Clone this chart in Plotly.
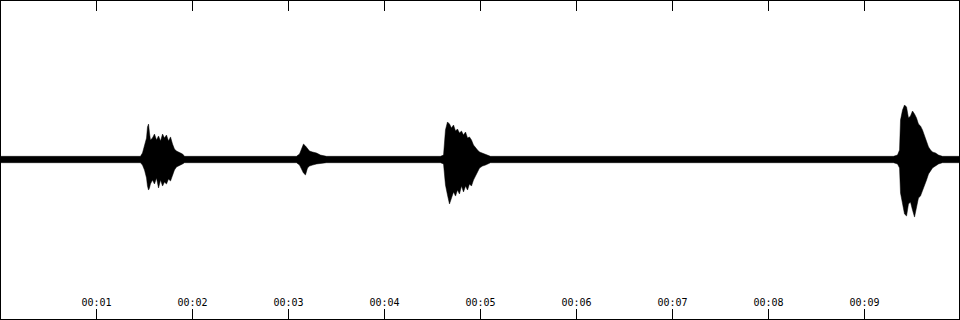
import plotly.graph_objects as go

# Waveform envelope: time (s), upper / lower peak amplitude (% of full scale)
times = [0.0,
         1.458, 1.479, 1.500, 1.521, 1.531, 1.542, 1.552, 1.562, 1.583, 1.604, 1.625, 1.646, 1.667,
         1.688, 1.708, 1.729, 1.750, 1.771, 1.792, 1.812, 1.833, 1.854, 1.875, 1.896, 1.917,
         3.083, 3.115, 3.135, 3.156, 3.177, 3.198, 3.219, 3.250, 3.292, 3.333, 3.396,
         4.583, 4.615, 4.635, 4.656, 4.677, 4.698, 4.719, 4.740, 4.760, 4.781, 4.802, 4.823,
         4.844, 4.865, 4.885, 4.906, 4.927, 4.948, 4.969, 4.990, 5.021, 5.052, 5.104,
         9.302, 9.344, 9.365, 9.375, 9.396, 9.417, 9.438, 9.458, 9.479, 9.500, 9.521, 9.542,
         9.562, 9.583, 9.604, 9.625, 9.646, 9.667, 9.688, 9.708, 9.740, 9.771, 9.812,
         10.0]

upper = [2.0,
         2.0, 4.1, 8.5, 13.5, 20.4, 22.3, 16.7, 12.3, 13.5, 16.0, 12.3, 14.8, 11.6,
         16.0, 13.5, 15.4, 11.6, 14.2, 9.7, 6.6, 5.3, 4.7, 4.1, 3.5, 2.0,
         2.0, 3.5, 6.0, 9.7, 8.5, 6.6, 5.3, 4.7, 4.1, 2.8, 2.0,
         2.0, 2.8, 18.6, 23.6, 22.3, 19.8, 21.7, 17.9, 19.2, 16.7, 17.9, 15.4,
         17.3, 13.5, 14.2, 12.3, 9.1, 7.2, 6.0, 4.7, 4.1, 3.5, 2.0,
         2.0, 2.8, 6.0, 24.8, 31.1, 34.3, 33.0, 26.1, 27.4, 30.5, 28.6, 26.1,
         22.3, 21.1, 18.6, 14.8, 11.0, 7.9, 6.0, 4.7, 4.1, 2.8, 2.0,
         2.0]

lower = [-2.0,
         -2.0, -3.5, -6.6, -11.6, -16.7, -19.2, -17.9, -15.4, -12.9, -15.4, -11.6, -17.9, -12.9,
         -16.7, -14.2, -15.4, -12.3, -13.5, -10.4, -6.6, -4.7, -4.1, -3.5, -2.8, -2.0,
         -2.0, -3.5, -5.3, -8.5, -9.7, -5.3, -4.1, -3.5, -2.8, -2.2, -2.0,
         -2.0, -2.8, -16.0, -22.3, -28.0, -24.2, -20.4, -23.0, -19.2, -21.7, -16.7, -20.4,
         -16.7, -19.2, -15.4, -16.7, -12.9, -10.4, -7.9, -5.3, -4.1, -3.5, -2.0,
         -2.0, -2.8, -5.3, -21.1, -28.6, -34.3, -35.5, -28.0, -26.7, -31.8, -36.2, -29.2,
         -24.2, -23.0, -20.4, -16.7, -12.9, -9.1, -7.2, -5.3, -4.1, -2.8, -2.0,
         -2.0]

tick_values = [1, 2, 3, 4, 5, 6, 7, 8, 9]
tick_labels = ["00:01", "00:02", "00:03", "00:04", "00:05", "00:06", "00:07", "00:08", "00:09"]

poly_x = times + times[::-1]
poly_y = upper + lower[::-1]

fig = go.Figure()
fig.add_trace(go.Scatter(
    x=poly_x, y=poly_y, mode="lines", fill="toself",
    fillcolor="black", line=dict(color="black", width=0.5),
    hoverinfo="skip", showlegend=False,
))

W, H = 960, 320
x0 = 1 - 95.5 / 96
x1 = x0 + 958 / 96
fig.update_layout(
    width=W, height=H,
    margin=dict(l=1, r=1, t=1, b=1, pad=0, autoexpand=False),
    paper_bgcolor="white", plot_bgcolor="white",
    showlegend=False,
    xaxis=dict(
        range=[x0, x1], showgrid=False, zeroline=False,
        showline=True, linecolor="black", linewidth=1, mirror="ticks",
        ticks="inside", ticklen=10, tickwidth=1, tickcolor="black",
        tickvals=tick_values, ticktext=tick_labels,
        ticklabelposition="inside",
        tickfont=dict(family="DejaVu Sans Mono", size=10, color="black"),
        automargin=False, fixedrange=True,
    ),
    yaxis=dict(
        range=[-100.31, 99.69], showgrid=False, zeroline=False,
        showline=True, linecolor="black", linewidth=1, mirror=True,
        ticks="", showticklabels=False, automargin=False, fixedrange=True,
    ),
)

fig.write_html("out.html", config={"displayModeBar": False})
